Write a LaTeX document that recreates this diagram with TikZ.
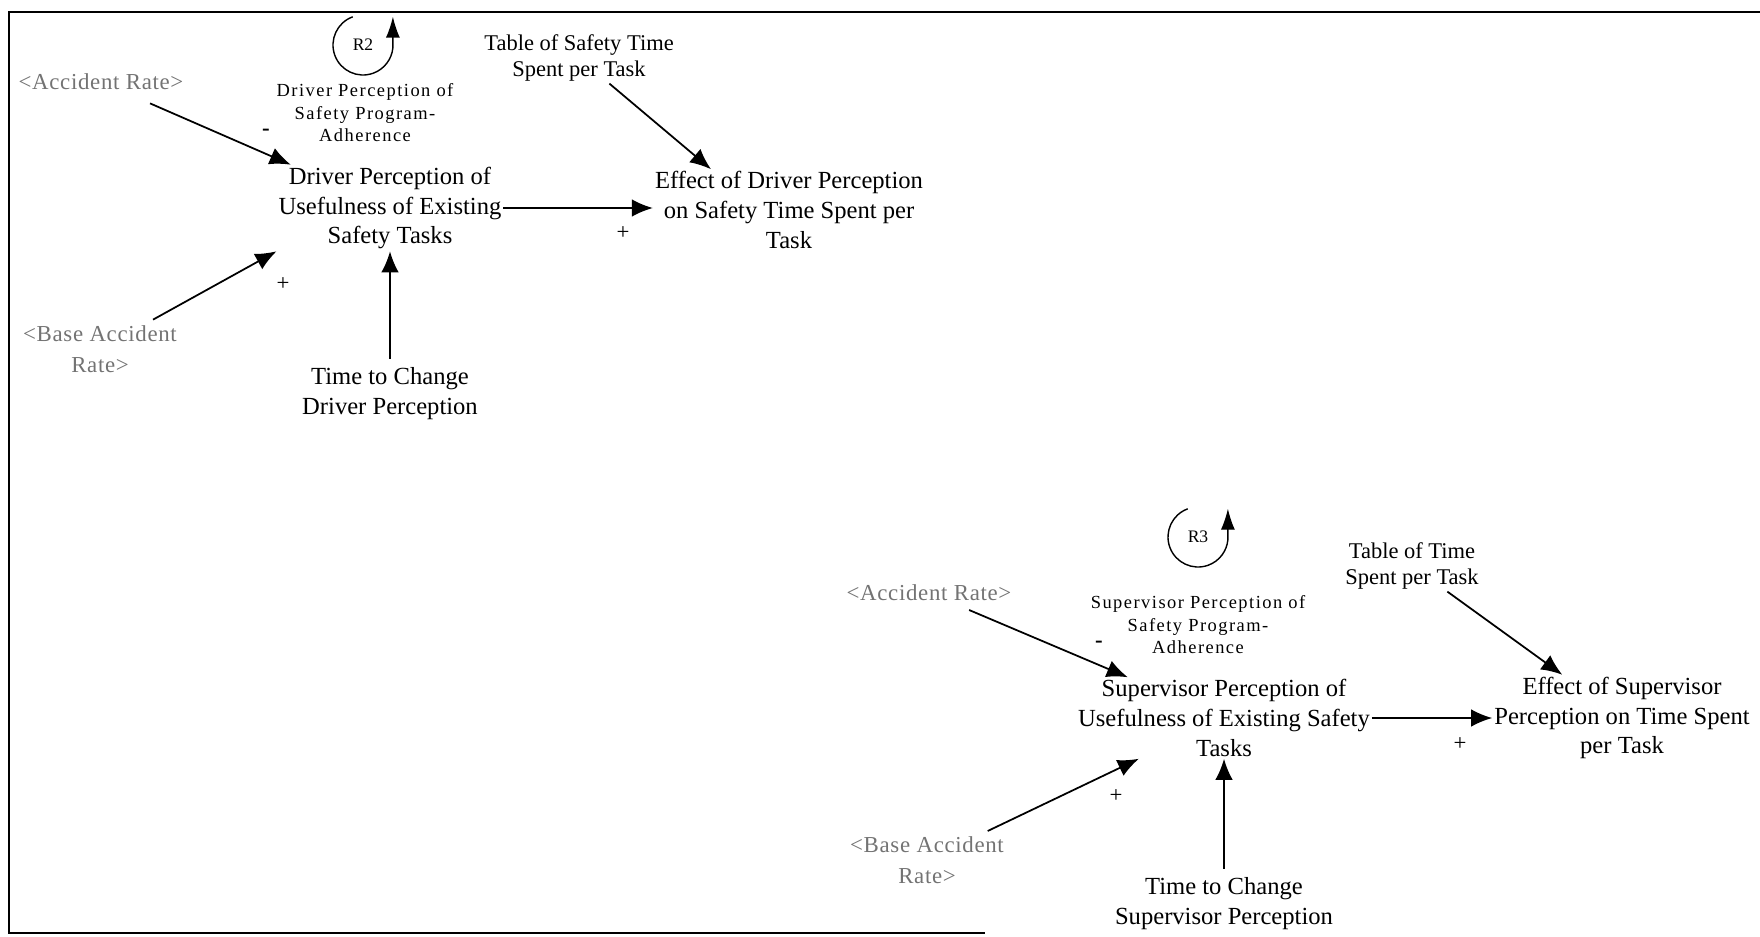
\documentclass[tikz,border=0pt]{standalone}
\usepackage{fontspec}
\setmainfont{Liberation Serif}
\newfontfamily\spacedfont[LetterSpace=8]{Liberation Serif}
\newfontfamily\ghostfont[LetterSpace=3]{Liberation Serif}
\usetikzlibrary{arrows.meta}

\begin{document}
\begin{tikzpicture}[x=0.02cm,y=-0.02cm,
    var/.style={align=center,inner sep=1pt,font=\fontsize{14}{17}\selectfont},
    lookup/.style={align=center,inner sep=1pt,font=\fontsize{12.8}{15}\selectfont},
    ghost/.style={align=center,inner sep=1pt,text=black!55,font=\ghostfont\fontsize{13}{18}\selectfont},
    looplabel/.style={align=center,inner sep=1pt,font=\spacedfont\fontsize{10.5}{12.8}\selectfont},
    loopname/.style={inner sep=0pt,font=\fontsize{10}{10}\selectfont},
    link/.style={-{Latex[length=12pt,width=10pt]},line width=1pt},
    looparrow/.style={-{Latex[length=12pt,width=8pt]},line width=0.8pt},
    sign/.style={inner sep=0pt,font=\fontsize{13}{13}\selectfont}]
  \useasboundingbox (0,0) rectangle (1760,936);
  \draw[line width=1pt] (1760,12) -- (9,12) -- (9,933) -- (985,933);

  \node[var] (dpu) at (390,208) {Driver Perception of\\Usefulness of Existing\\Safety Tasks};
  \node[var] (edp) at (789,210) {Effect of Driver Perception\\on Safety Time Spent per\\Task};
  \node[var] (tcd) at (390,394) {Time to Change\\Driver Perception};
  \node[lookup] (tst) at (579,58) {Table of Safety Time\\Spent per Task};
  \node[ghost] (acc1) at (101,82) {<Accident Rate>};
  \node[ghost] (base1) at (100,349) {<Base Accident\\Rate>};
  \node[looplabel] (dpa) at (365,113) {Driver Perception of\\Safety Program-\\Adherence};
  \node[loopname] (r2) at (363,45) {R2};
  \draw[looparrow] ([shift={(-110:30)}]r2.center) arc[start angle=-110,end angle=-355,radius=30] -- ++(0,-31);

  \draw[link,shorten <=16pt] (acc1) -- (dpu);
  \draw[link,shorten <=4pt] (base1) -- (dpu.south west);
  \draw[link,shorten <=4pt] (tcd) -- (dpu);
  \draw[link] (dpu.east) -- (edp.west |- dpu.east);
  \draw[link] (tst) -- ([xshift=-1.56cm]edp.north);
  \node[sign] (s1) at (266,132) {\textbf{-}};
  \node[sign] (s2) at (283,284) {+};
  \node[sign] (s3) at (623,233) {+};

  \node[var] (spu) at (1224,718) {Supervisor Perception of\\Usefulness of Existing Safety\\Tasks};
  \node[var] (esp) at (1622,718) {Effect of Supervisor\\Perception on Time Spent\\per Task};
  \node[var] (tcs) at (1224,904) {Time to Change\\Supervisor Perception};
  \node[lookup] (tts) at (1412,566) {Table of Time\\Spent per Task};
  \node[ghost] (acc2) at (929,593) {<Accident Rate>};
  \node[ghost] (base2) at (927,860) {<Base Accident\\Rate>};
  \node[looplabel] (spa) at (1198,625) {Supervisor Perception of\\Safety Program-\\Adherence};
  \node[loopname] (r3) at (1198,537) {R3};
  \draw[looparrow] ([shift={(-110:30)}]r3.center) arc[start angle=-110,end angle=-355,radius=30] -- ++(0,-31);

  \draw[link,shorten <=10pt] (acc2) -- (spu);
  \draw[link,shorten <=4pt] (base2) -- (spu);
  \draw[link,shorten <=4pt] (tcs) -- (spu);
  \draw[link] (spu.east) -- (esp.west |- spu.east);
  \draw[link] (tts) -- (esp);
  \node[sign] (s4) at (1099,644) {\textbf{-}};
  \node[sign] (s5) at (1116,796) {+};
  \node[sign] (s6) at (1460,744) {+};
\end{tikzpicture}
\end{document}
